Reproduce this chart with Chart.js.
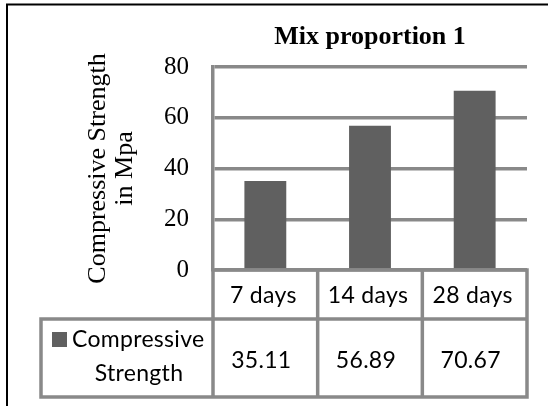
<!DOCTYPE html>
<html>
<head>
<meta charset="utf-8">
<script src="https://cdn.jsdelivr.net/npm/chart.js@4.4.1/dist/chart.umd.min.js"></script>
<style>
  html, body { margin: 0; padding: 0; background: #ffffff; }
  #wrap { position: relative; width: 548px; height: 406px; }
  canvas { display: block; }
</style>
</head>
<body>
<div id="wrap"><canvas id="chart" width="548" height="406"></canvas></div>
<script>
// Compressive strength of mix proportion 1 at each curing age
const categories = ['7 days', '14 days', '28 days'];
const strengthValues = [35.11, 56.89, 70.67];
const valueLabels = ['35.11', '56.89', '70.67'];
const seriesName = ['Compressive', 'Strength'];
const chartTitle = 'Mix proportion 1';
const axisTitle = ['Compressive Strength', 'in Mpa'];

const BAR = '#606060';
const LINE = '#898989';
const SERIF = '"Liberation Serif", "Times New Roman", serif';
const SANS = 'Lato, "Open Sans", sans-serif';

// Title, data table under the plot and the outer frame
const extras = {
  id: 'extras',
  afterDraw(chart) {
    const ctx = chart.ctx;
    const area = chart.chartArea;
    const x = chart.scales.x;
    const n = categories.length;
    const colW = (area.right - area.left) / n;
    const rowTop = area.bottom;
    const rowMid = rowTop + 49;
    const rowBot = rowTop + 127;
    const legendLeft = 41;

    ctx.save();
    // chart title
    ctx.fillStyle = '#000';
    ctx.font = 'bold 26px ' + SERIF;
    ctx.textAlign = 'center';
    ctx.textBaseline = 'middle';
    ctx.fillText(chartTitle, (area.left + area.right) / 2, 37);

    // table grid
    ctx.strokeStyle = LINE;
    ctx.lineWidth = 3.5;
    ctx.lineCap = 'square';
    ctx.beginPath();
    ctx.moveTo(area.left, rowTop); ctx.lineTo(area.right, rowTop);
    ctx.moveTo(legendLeft, rowMid); ctx.lineTo(area.right, rowMid);
    ctx.moveTo(legendLeft, rowBot); ctx.lineTo(area.right, rowBot);
    ctx.moveTo(legendLeft, rowMid); ctx.lineTo(legendLeft, rowBot);
    for (let i = 0; i <= n; i++) {
      const cx = area.left + i * colW;
      ctx.moveTo(cx, rowTop); ctx.lineTo(cx, rowBot);
    }
    ctx.stroke();

    // table text
    ctx.fillStyle = '#000';
    ctx.font = '23px ' + SANS;
    ctx.letterSpacing = '0.3px';
    ctx.textAlign = 'center';
    ctx.textBaseline = 'middle';
    for (let i = 0; i < n; i++) {
      const cx = x.getPixelForValue(i);
      ctx.fillText(categories[i], cx - 2, rowTop + 26);
      ctx.fillText(valueLabels[i], cx - 4, rowMid + 42);
    }
    // legend key and series name
    ctx.fillStyle = BAR;
    ctx.fillRect(52, rowMid + 13, 15, 15);
    ctx.fillStyle = '#000';
    ctx.textAlign = 'left';
    ctx.fillText(seriesName[0], 72, rowMid + 21);
    ctx.textAlign = 'center';
    ctx.fillText(seriesName[1], 139, rowMid + 55);
    ctx.letterSpacing = '0px';

    // outer frame
    ctx.strokeStyle = '#000';
    ctx.lineWidth = 2;
    ctx.lineCap = 'butt';
    ctx.strokeRect(7, 4.5, 700, 700);
    ctx.restore();
  }
};

new Chart(document.getElementById('chart'), {
  type: 'bar',
  data: {
    labels: categories,
    datasets: [{
      label: seriesName.join(' '),
      data: strengthValues,
      backgroundColor: BAR,
      borderWidth: 0,
      categoryPercentage: 1,
      barPercentage: 0.4
    }]
  },
  options: {
    responsive: false,
    animation: false,
    devicePixelRatio: 1,
    layout: { padding: { left: 0, top: 67, right: 21, bottom: 136 } },
    plugins: {
      legend: { display: false },
      title: { display: false },
      tooltip: { enabled: false }
    },
    scales: {
      x: { display: false },
      y: {
        min: 0,
        max: 80,
        afterFit(scale) { scale.width = 213; },
        ticks: {
          stepSize: 20,
          padding: 24,
          color: '#000',
          font: { family: SERIF, size: 25 }
        },
        grid: { color: LINE, lineWidth: 3.5, drawTicks: false },
        border: { display: true, color: LINE, width: 3.5 },
        title: {
          display: true,
          text: axisTitle,
          color: '#000',
          font: { family: SERIF, size: 26, lineHeight: 1.06 },
          padding: { top: 84, bottom: 0 }
        }
      }
    }
  },
  plugins: [extras]
});
</script>
</body>
</html>
